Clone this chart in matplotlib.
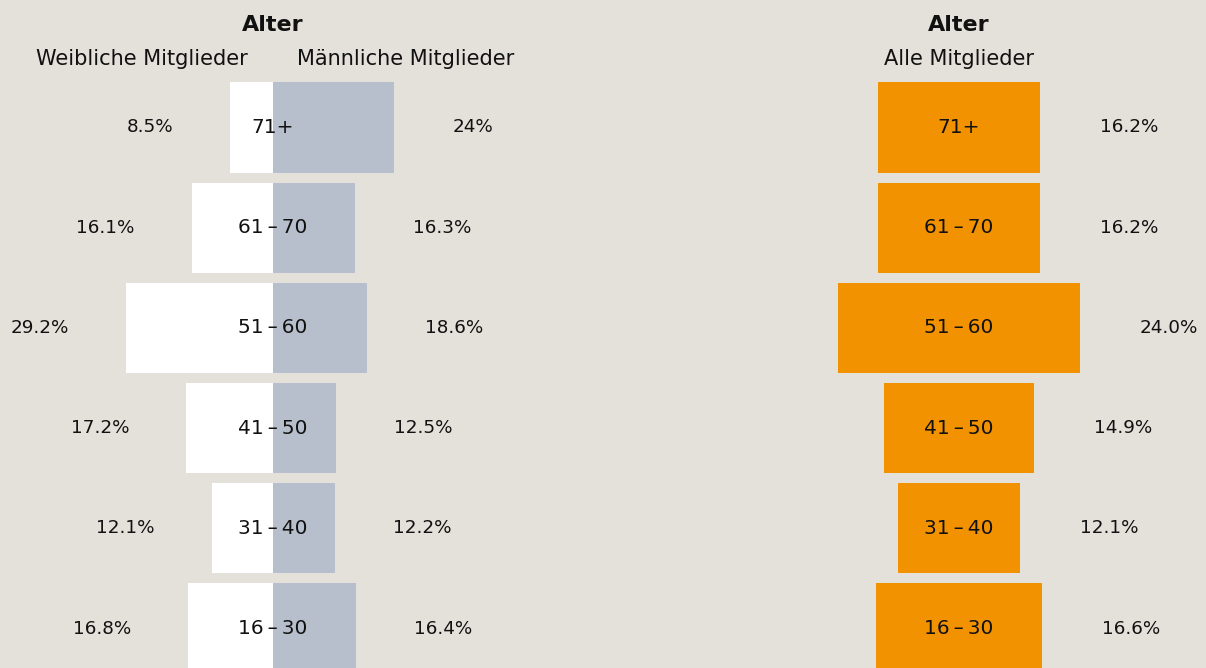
import matplotlib
matplotlib.use("Agg")
import matplotlib.pyplot as plt

plt.rcParams['font.family'] = ['DejaVu Sans']

# Data
age_groups = ["16\u2009\u2013\u200930", "31\u2009\u2013\u200940", "41\u2009\u2013\u200950",
              "51\u2009\u2013\u200960", "61\u2009\u2013\u200970", "71+"]
female = [16.8, 12.1, 17.2, 29.2, 16.1, 8.5]
male = [16.4, 12.2, 12.5, 18.6, 16.3, 24]
total = [16.6, 12.1, 14.9, 24.0, 16.2, 16.2]

BG = "#e4e0da"
GRAY = "#b8bfcc"
ORANGE = "#f39200"
TXT = "#111111"
W, H = 1206, 668
fig = plt.figure(figsize=(W / 100, H / 100), dpi=100, facecolor=BG)

pitch = 100.2
ybot = -39.5 / pitch
ytop = ybot + H / pitch
ypos = list(range(len(age_groups)))

PCT = 13.2
CEN = 14.5
HDR = 15

# Left pyramid axes: spans pixels 0..546, center 273, 5.05 px per %
sl = 5.05
axL = fig.add_axes([0, 0, 546 / W, 1])
axL.set_xlim(-273 / sl, 273 / sl)
axL.set_ylim(ybot, ytop)
axL.axis("off")
axL.barh(ypos, [-v for v in female], height=0.9, color="white", linewidth=0)
axL.barh(ypos, male, height=0.9, color=GRAY, linewidth=0)
for y, f, m, lab in zip(ypos, female, male, age_groups):
    axL.annotate(f"{f}%", (-f, y), xytext=(-57, 0), textcoords="offset pixels",
                 ha="right", va="center", fontsize=PCT, color=TXT)
    axL.annotate(f"{m}%", (m, y), xytext=(58, 0), textcoords="offset pixels",
                 ha="left", va="center", fontsize=PCT, color=TXT)
    axL.text(0, y, lab, ha="center", va="center", fontsize=CEN, color=TXT)

# Right axes: spans pixels 700..1206, center 959, 10.05 px per %
sr = 10.05
x0 = 700
axR = fig.add_axes([x0 / W, 0, (W - x0) / W, 1])
axR.set_xlim((x0 - 959) / sr, (W - 959) / sr)
axR.set_ylim(ybot, ytop)
axR.axis("off")
axR.barh(ypos, total, left=[-v / 2 for v in total], height=0.9, color=ORANGE, linewidth=0)
for y, t, lab in zip(ypos, total, age_groups):
    axR.annotate(f"{t}%", (t / 2, y), xytext=(60, 0), textcoords="offset pixels",
                 ha="left", va="center", fontsize=PCT, color=TXT)
    axR.text(0, y, lab, ha="center", va="center", fontsize=CEN, color=TXT)

# Headers
def fx(px):
    return px / W

def fy(py):
    return 1 - py / H

fig.text(fx(273), fy(25), "Alter", ha="center", va="center", fontsize=16, fontweight="bold", color=TXT)
fig.text(fx(142), fy(59), "Weibliche Mitglieder", ha="center", va="center", fontsize=HDR, color=TXT)
fig.text(fx(406), fy(59), "Männliche Mitglieder", ha="center", va="center", fontsize=HDR, color=TXT)
fig.text(fx(959), fy(25), "Alter", ha="center", va="center", fontsize=16, fontweight="bold", color=TXT)
fig.text(fx(959), fy(59), "Alle Mitglieder", ha="center", va="center", fontsize=HDR, color=TXT)

fig.savefig("out.png", dpi=100, facecolor=BG)
